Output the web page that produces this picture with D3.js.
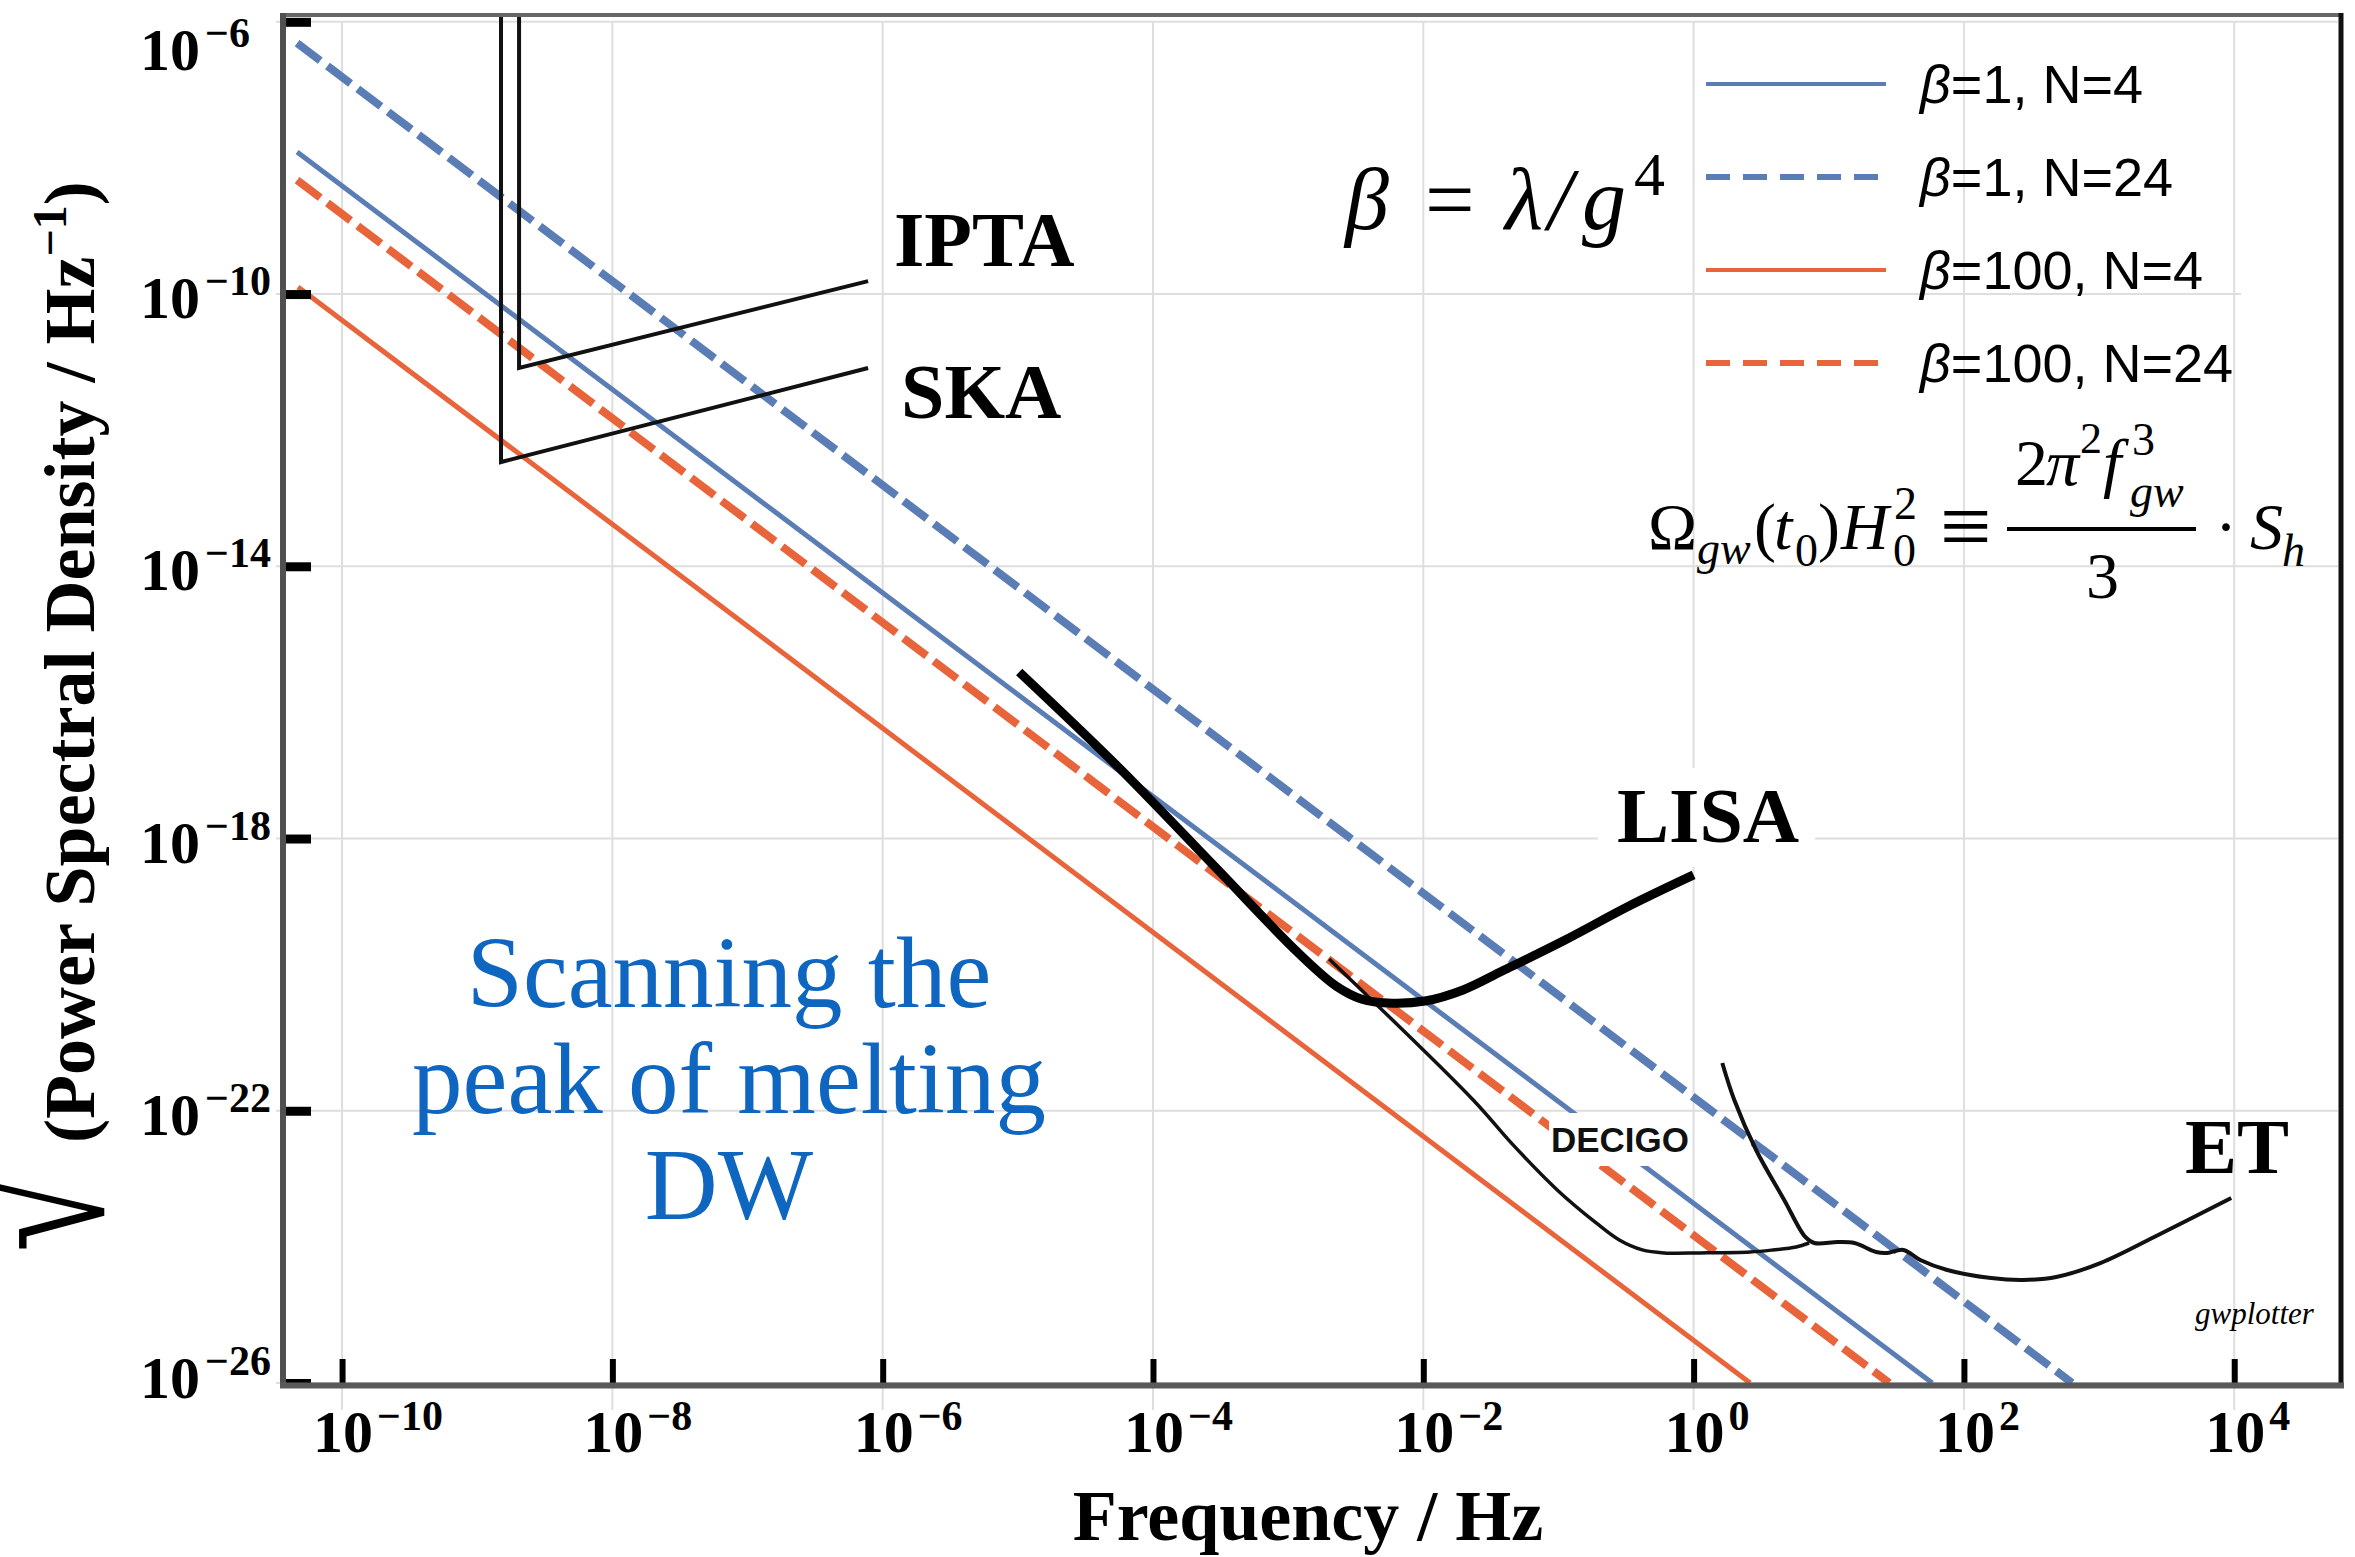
<!DOCTYPE html>
<html>
<head>
<meta charset="utf-8">
<script src="https://cdn.jsdelivr.net/npm/d3@7/dist/d3.min.js"></script>
<style>
html,body{margin:0;padding:0;background:#fff;}
svg{display:block;}
</style>
</head>
<body>
<svg id="chart" width="2355" height="1557" xmlns="http://www.w3.org/2000/svg"></svg>
<script>
// ---------------- data ----------------
const xTicks = [1e-10, 1e-8, 1e-6, 1e-4, 1e-2, 1, 1e2, 1e4];
const xTickExp = ["−10", "−8", "−6", "−4", "−2", "0", "2", "4"];
const yTicks = [1e-6, 1e-10, 1e-14, 1e-18, 1e-22, 1e-26];
const yTickExp = ["−6", "−10", "−14", "−18", "−22", "−26"];

const seriesLabels = ["β=1, N=4", "β=1, N=24", "β=100, N=4", "β=100, N=24"];
// [frequency Hz, sqrt(PSD)]
const beta1N4    = [[4.65e-11, 1.22e-8],  [58.3, 1e-26]];
const beta1N24   = [[4.65e-11, 4.86e-7],  [631, 1e-26]];
const beta100N4  = [[4.72e-11, 1.27e-10], [2.62, 1e-26]];
const beta100N24 = [[4.65e-11, 4.72e-9],  [28.0, 1e-26]];

const detectorLabels = ["IPTA", "SKA", "LISA", "DECIGO", "ET"];
const iptaCurve = [[2.04e-9, 1e-5], [2.04e-9, 8.18e-12], [7.80e-7, 1.55e-10]];
const skaCurve  = [[1.50e-9, 1e-5], [1.50e-9, 3.40e-13], [7.80e-7, 8.18e-12]];
const lisaCurve = [
  [1.023e-5, 2.80e-16], [5.62e-5, 1.09e-17], [2.88e-4, 3.82e-19], [1.17e-3, 2.15e-20],
  [2.26e-3, 6.82e-21], [3.47e-3, 4.40e-21], [5.41e-3, 3.84e-21], [1.03e-2, 4.10e-21],
  [1.97e-2, 5.96e-21], [3.84e-2, 1.13e-20], [0.112, 3.23e-20], [0.333, 1.02e-19], [1.0, 2.92e-19]
];
const decigoCurve = [
  [2.01e-3, 1.70e-20], [2.34e-2, 1.44e-22], [4.47e-2, 3.37e-23], [9.79e-2, 6.87e-24],
  [0.190, 2.25e-24], [0.282, 1.26e-24], [0.417, 9.02e-25], [0.607, 8.15e-25],
  [1.12, 8.15e-25], [2.62, 8.41e-25], [3.88, 9.02e-25], [5.74, 9.98e-25], [7.16, 1.14e-24]
];
const etCurve = [
  [1.63, 5.04e-22], [2.00, 1.44e-22], [2.90, 2.65e-23], [4.68, 4.90e-24], [6.70, 1.40e-24],
  [7.82, 1.14e-24], [11.7, 1.18e-24], [15.5, 1.14e-24], [22.4, 8.41e-25], [27.1, 8.15e-25],
  [35.6, 9.02e-25], [47.5, 6.43e-25], [75.3, 4.58e-25], [159, 3.49e-25], [275, 3.27e-25],
  [482, 3.61e-25], [1021, 5.79e-25], [2559, 1.40e-24], [9506, 5.24e-24]
];

// ---------------- setup ----------------
const SERIF = "'Liberation Serif','Times New Roman',serif";
const SANS = "'Liberation Sans',Arial,sans-serif";
const BLUE = "#5b7db6";
const ORANGE = "#e8643a";
const svg = d3.select("#chart");
const P = {left: 283, right: 2341, top: 15, bottom: 1385};

const x = d3.scaleLog().domain([3.656e-11, 6.166e4]).range([P.left, P.right]);
const y = d3.scaleLog().domain([1e-26, 1.259e-6]).range([1383, P.top]);

svg.append("rect").attr("width", 2355).attr("height", 1557).attr("fill", "#fff");

svg.append("defs").append("clipPath").attr("id", "plotclip")
  .append("rect").attr("x", P.left).attr("y", P.top)
  .attr("width", P.right - P.left).attr("height", P.bottom - P.top);

// grid
const grid = svg.append("g").attr("stroke", "#dedede").attr("stroke-width", 2);
grid.selectAll("line.gx").data(xTicks).join("line").attr("class", "gx")
  .attr("x1", d => x(d)).attr("x2", d => x(d)).attr("y1", 21).attr("y2", 1410);
grid.selectAll("line.gy").data(yTicks).join("line").attr("class", "gy")
  .attr("x1", 276).attr("x2", P.right - 3).attr("y1", d => y(d)).attr("y2", d => y(d));
// legend background patch
svg.append("rect").attr("x", 2241).attr("y", 37).attr("width", 97).attr("height", 383).attr("fill", "#fff");

// model lines
const line = d3.line().x(d => x(d[0])).y(d => y(d[1]));
const seriesData = [beta1N4, beta1N24, beta100N4, beta100N24];
const seriesStyle = [
  {color: BLUE, width: 5, dash: null},
  {color: BLUE, width: 8, dash: "29,9"},
  {color: ORANGE, width: 5, dash: null},
  {color: ORANGE, width: 8, dash: "29,9"}
];
const plotG = svg.append("g").attr("clip-path", "url(#plotclip)");
seriesData.forEach((d, i) => {
  plotG.append("path").datum(d).attr("d", line)
    .attr("fill", "none").attr("stroke", seriesStyle[i].color)
    .attr("stroke-width", seriesStyle[i].width)
    .attr("stroke-dasharray", seriesStyle[i].dash);
});

// detector curves
const smooth = d3.line().x(d => x(d[0])).y(d => y(d[1])).curve(d3.curveCatmullRom.alpha(0.5));
plotG.append("path").datum(iptaCurve).attr("d", line).attr("fill", "none").attr("stroke", "#111").attr("stroke-width", 4);
plotG.append("path").datum(skaCurve).attr("d", line).attr("fill", "none").attr("stroke", "#111").attr("stroke-width", 4);
plotG.append("path").datum(decigoCurve).attr("d", smooth).attr("fill", "none").attr("stroke", "#111").attr("stroke-width", 3.5);
plotG.append("path").datum(etCurve).attr("d", smooth).attr("fill", "none").attr("stroke", "#111").attr("stroke-width", 4);
plotG.append("path").datum(lisaCurve).attr("d", smooth).attr("fill", "none").attr("stroke", "#000").attr("stroke-width", 9);

// label boxes + labels
svg.append("rect").attr("x", 1598).attr("y", 768).attr("width", 217).attr("height", 99).attr("fill", "#fff");
svg.append("rect").attr("x", 1549).attr("y", 1113).attr("width", 143).attr("height", 53).attr("fill", "#fff");

const detLabelPos = [[894, 266], [901, 418], [1617, 842], null, [2185, 1173]];
detectorLabels.forEach((t, i) => {
  if (t === "DECIGO") return;
  svg.append("text").attr("x", detLabelPos[i][0]).attr("y", detLabelPos[i][1])
    .attr("font-family", SERIF).attr("font-weight", "bold").attr("font-size", 78).text(t);
});
svg.append("text").attr("x", 1620).attr("y", 1152).attr("text-anchor", "middle")
  .attr("font-family", SANS).attr("font-weight", "bold").attr("font-size", 35).attr("fill", "#111")
  .text(detectorLabels[3]);
svg.append("text").attr("x", 2195).attr("y", 1324).attr("font-family", SERIF)
  .attr("font-style", "italic").attr("font-size", 31).text("gwplotter");

// axes
const xAxis = d3.axisBottom(x).tickValues(xTicks).tickSizeInner(-26).tickSizeOuter(0).tickFormat("");
svg.append("g").attr("transform", `translate(0,${P.bottom})`).call(xAxis)
  .call(g => g.select(".domain").remove())
  .call(g => g.selectAll(".tick line").attr("stroke", "#000").attr("stroke-width", 6));
const yAxis = d3.axisLeft(y).tickValues(yTicks).tickSizeInner(-28).tickSizeOuter(0).tickFormat("");
svg.append("g").attr("transform", `translate(${P.left},0)`).call(yAxis)
  .call(g => g.select(".domain").remove())
  .call(g => g.selectAll(".tick line").attr("stroke", "#000").attr("stroke-width", 9));

// frame
svg.append("line").attr("x1", P.left - 3).attr("x2", P.right + 2).attr("y1", P.top).attr("y2", P.top)
  .attr("stroke", "#666").attr("stroke-width", 4);
svg.append("line").attr("x1", P.right).attr("x2", P.right).attr("y1", P.top - 2).attr("y2", P.bottom + 3)
  .attr("stroke", "#111").attr("stroke-width", 5);
svg.append("line").attr("x1", P.left).attr("x2", P.left).attr("y1", P.top - 2).attr("y2", P.bottom + 3)
  .attr("stroke", "#505050").attr("stroke-width", 6);
svg.append("line").attr("x1", P.left - 3).attr("x2", P.right + 3).attr("y1", P.bottom + 0.5).attr("y2", P.bottom + 0.5)
  .attr("stroke", "#5a5a5a").attr("stroke-width", 6);

// tick labels
yTicks.forEach((t, i) => {
  const by = Math.min(Math.max(y(t) + 24, 70), 1398);
  const tx = svg.append("text").attr("x", 140).attr("y", by)
    .attr("font-family", SERIF).attr("font-weight", "bold").attr("font-size", 60);
  tx.append("tspan").text("10");
  tx.append("tspan").attr("font-size", 42).attr("dx", 5).attr("dy", -23).text(yTickExp[i]);
});
xTicks.forEach((t, i) => {
  const tx = svg.append("text").attr("x", x(t) - 29).attr("y", 1452)
    .attr("font-family", SERIF).attr("font-weight", "bold").attr("font-size", 60);
  tx.append("tspan").text("10");
  tx.append("tspan").attr("font-size", 42).attr("dx", 4).attr("dy", -22).text(xTickExp[i]);
});

// axis titles
svg.append("text").attr("x", 1308).attr("y", 1540).attr("text-anchor", "middle")
  .attr("font-family", SERIF).attr("font-weight", "bold").attr("font-size", 72).text("Frequency / Hz");
const yt = svg.append("g").attr("transform", "translate(94,1233) rotate(-90)")
  .attr("font-family", SERIF).attr("font-weight", "bold");
yt.append("text").attr("transform", "translate(-19,9) scale(1.2,1.6)")
  .attr("font-size", 120).attr("font-weight", "normal").text("√");
const ytt = yt.append("text").attr("x", 90).attr("y", 0).attr("font-size", 72);
ytt.append("tspan").text("(Power Spectral Density / Hz");
ytt.append("tspan").attr("font-size", 48).attr("dy", -28).text("−1");
ytt.append("tspan").attr("dy", 28).text(")");

// blue annotation
const blueLines = ["Scanning the", "peak of melting", "DW"];
blueLines.forEach((t, i) => {
  svg.append("text").attr("x", 729).attr("y", 1007 + i * 106).attr("text-anchor", "middle")
    .attr("font-family", SERIF).attr("font-size", 101).attr("fill", "#0e66c0").text(t);
});

// legend
seriesLabels.forEach((lab, i) => {
  const ry = 84 + i * 93;
  svg.append("line").attr("x1", 1706).attr("x2", 1886).attr("y1", ry).attr("y2", ry)
    .attr("stroke", seriesStyle[i].color).attr("stroke-width", seriesStyle[i].dash ? 6 : 4)
    .attr("stroke-dasharray", seriesStyle[i].dash ? "24,13" : null);
  const t = svg.append("text").attr("x", 1920).attr("y", ry + 19)
    .attr("font-family", SANS).attr("font-size", 54);
  t.append("tspan").attr("font-style", "italic").text(lab[0]);
  t.append("tspan").text(lab.slice(1));
});

// beta formula
const f1 = svg.append("g").attr("font-family", SERIF).attr("font-size", 88);
f1.append("text").attr("x", 1345).attr("y", 229).attr("font-style", "italic").text("β");
f1.append("text").attr("x", 1425).attr("y", 229).text("=");
f1.append("text").attr("x", 1505).attr("y", 229).attr("font-style", "italic").text("λ");
f1.append("text").attr("x", 1548).attr("y", 229).attr("font-style", "italic").text("/");
f1.append("text").attr("x", 1582).attr("y", 229).attr("font-style", "italic").text("g");
f1.append("text").attr("x", 1634).attr("y", 195).attr("font-size", 62).text("4");

// Omega formula
const f2 = svg.append("g").attr("font-family", SERIF).attr("font-size", 66);
const put = (tx, px, py, opts = {}) => {
  const e = f2.append("text").attr("x", px).attr("y", py).text(tx);
  if (opts.it) e.attr("font-style", "italic");
  if (opts.fs) e.attr("font-size", opts.fs);
  return e;
};
put("Ω", 1648, 549);
put("gw", 1697, 564, {it: true, fs: 46});
put("(", 1754, 549);
put("t", 1774, 549, {it: true});
put("0", 1795, 566, {fs: 46});
put(")", 1818, 549);
put("H", 1841, 549, {it: true});
put("2", 1894, 519, {fs: 46});
put("0", 1893, 566, {fs: 46});
put("≡", 1940, 557, {fs: 92});
f2.append("line").attr("x1", 2007).attr("x2", 2196).attr("y1", 529).attr("y2", 529)
  .attr("stroke", "#000").attr("stroke-width", 4);
put("2", 2015, 485);
put("π", 2046, 485, {it: true});
put("2", 2080, 453, {fs: 44});
put("f", 2103, 485, {it: true});
put("3", 2132, 455, {fs: 46});
put("gw", 2130, 507, {it: true, fs: 46});
put("3", 2086, 598);
put("·", 2215, 549);
put("S", 2250, 549, {it: true});
put("h", 2282, 566, {it: true, fs: 46});
</script>
</body>
</html>
